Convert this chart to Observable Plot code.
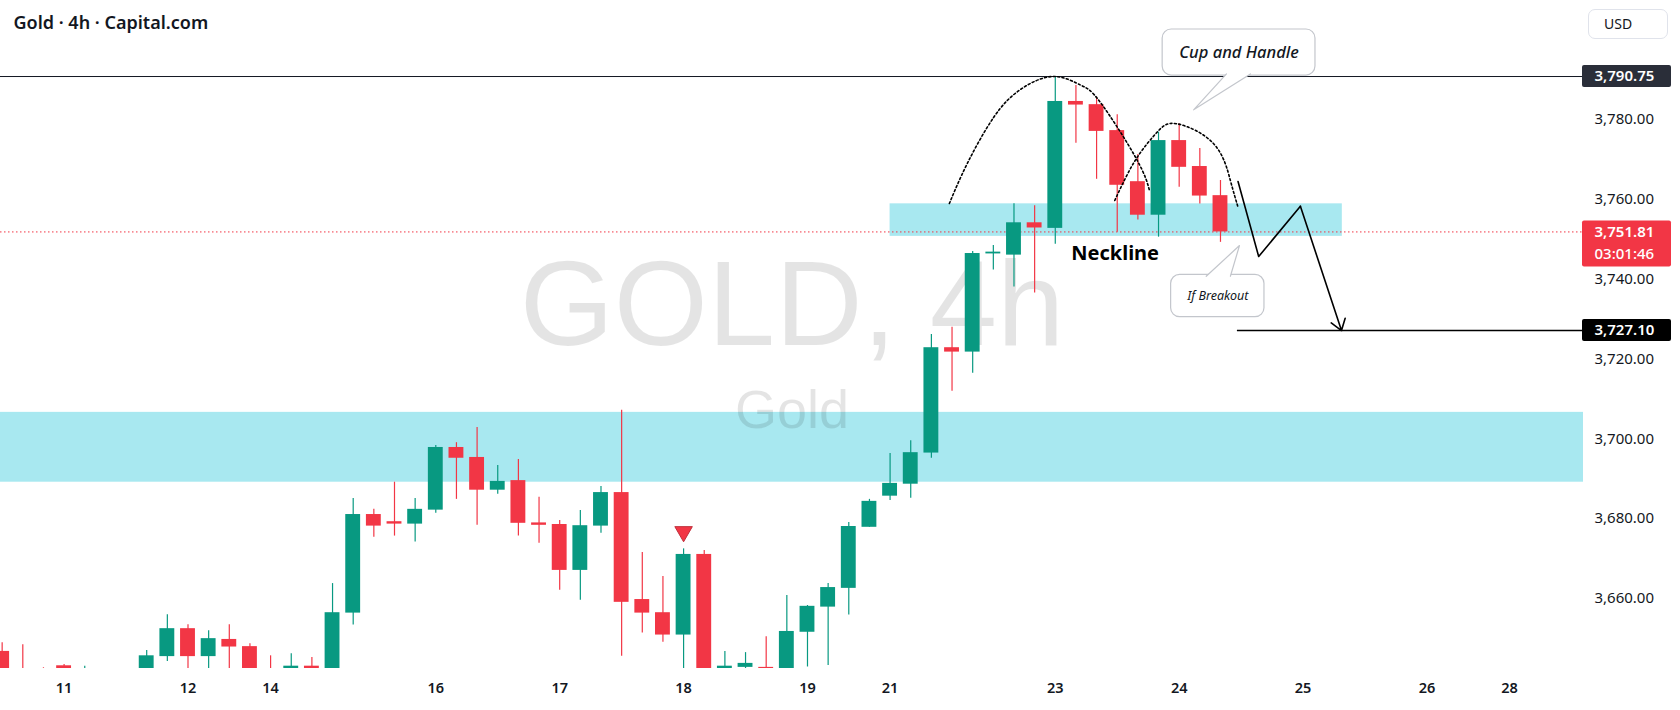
<!DOCTYPE html>
<html><head><meta charset="utf-8">
<script src="https://cdn.jsdelivr.net/npm/d3@7"></script>
<script src="https://cdn.jsdelivr.net/npm/@observablehq/plot@0.6"></script>
<style>
html,body{margin:0;padding:0;background:#fff;}
#chart{position:relative;width:1680px;height:710px;overflow:hidden;}
#usd{position:absolute;left:1588px;top:9px;width:80px;height:30px;box-sizing:border-box;border:1px solid #e0e3eb;border-radius:7px;font:14px "Noto Sans",sans-serif;color:#131722;line-height:28px;padding-left:15px;background:#fff;}
</style></head><body><div id="chart"><div id="usd">USD</div></div>
<script>
// ---- candle data (4h bars, slot index along the time axis) ----
const slots  = [0,1,2,3,4,7,8,9,10,11,12,13,14,15,16,17,18,19,20,21,22,23,24,25,26,27,28,29,30,31,32,33,34,35,36,37,38,39,40,41,42,43,44,45,46,47,48,49,50,51,52,53,54,55,56,57,58,59];
const opens  = [3646.7,3641,3640,3643.1,3638,3638,3645.4,3652.4,3645.4,3649.7,3647.9,3640,3641,3643.0,3641.5,3656.3,3681.0,3679.2,3678.6,3682.1,3697.8,3695.3,3687.1,3689.5,3678.9,3678.5,3667.0,3678.1,3686.5,3659.7,3656.4,3650.8,3671.0,3638,3642.7,3642.7,3636,3651.5,3657.8,3662.5,3677.8,3685.6,3688.6,3696.4,3722.8,3721.7,3746.3,3746.0,3754.1,3752.7,3784.5,3783.7,3777.2,3764.4,3756.0,3774.7,3768.2,3760.9];
const highs  = [3648.9,3648.4,3642.6,3643.4,3643.0,3646.9,3655.9,3653.4,3651.9,3653.4,3648.6,3645.6,3646.1,3645.2,3663.7,3685.0,3682.3,3689.1,3685.0,3698.3,3699.0,3702.8,3693.3,3694.8,3685.3,3679.5,3682.0,3688.0,3707.1,3671.5,3665.5,3672.4,3672.0,3646.7,3646.4,3650.4,3660.7,3658.2,3663.7,3679.0,3684.8,3696.3,3699.5,3726.1,3727.9,3746.9,3748.4,3758.9,3758.4,3790.75,3788.5,3785.5,3781.2,3771.2,3776.8,3778.9,3772.7,3764.7];
const lows   = [3636,3636,3634,3636,3635,3636,3644.2,3641,3642,3642,3637,3636,3639,3638,3640,3653.3,3675.3,3675.6,3674.1,3681.3,3684.8,3678.3,3686.1,3675.6,3673.8,3662.0,3659.5,3676.3,3645.5,3651.3,3649.0,3641,3630,3636,3641,3638,3634,3642.8,3643.2,3655.8,3677.8,3684.5,3685.1,3695.1,3711.9,3716.4,3742.3,3738.0,3736.5,3748.7,3774.0,3765.0,3751.7,3754.8,3750.5,3763.0,3758.8,3749.2];
const closes = [3638,3638,3637,3640,3640,3645.6,3652.4,3645.4,3649.9,3647.8,3639,3638,3643.0,3641,3656.4,3681.0,3678.1,3678.6,3682.3,3697.8,3695.1,3687.1,3689.3,3678.8,3678.3,3667.0,3678.2,3686.5,3659.0,3656.3,3650.8,3671.0,3635,3643.0,3643.7,3640,3651.7,3658.0,3662.7,3678.0,3684.3,3688.8,3696.5,3722.8,3721.7,3746.4,3746.5,3754.1,3752.8,3784.5,3783.6,3777.0,3763.5,3756.0,3774.7,3768.0,3760.8,3751.81];

// ---- axes ----
const daySlots  = [3,9,13,21,27,33,39,43,51,57,63,69,73];
const dayLabels = ["11","12","14","16","17","18","19","21","23","24","25","26","28"];
const priceTicks = [3660,3680,3700,3720,3740,3760,3780];

// ---- levels & zones ----
const highLevel = 3790.75;
const lastPrice = 3751.81;
const countdown = "03:01:46";
const targetLevel = 3727.10;
const targetStartSlot = 59.82;
const zoneNames = ["neckline","support"];
const zoneX1 = [43, null];
const zoneX2 = [64.9, null];
const zoneLow = [3750.7, 3689.1];
const zoneHigh = [3758.85, 3706.6];

// ---- drawings ----
const cupArcSlots  = [45.87,46.73,48.02,49.31,50.90,52.22,53.19,54.92,55.56];
const cupArcPrices = [3758.93,3768.87,3780.55,3787.49,3790.75,3788.62,3784.23,3770.2,3762.2];
const handleArcSlots  = [53.88,54.88,55.93,56.90,58.67,59.48,59.85];
const handleArcPrices = [3759.68,3769.8,3776.79,3778.9,3773.9,3764.7,3758.0];
const zigSlots  = [59.85,60.85,62.87,64.86];
const zigPrices = [3764.44,3745.65,3758.25,3727.1];
const signalSlot = 33, signalPrice = 3676.7;

const cupBox = {x1:56.2, x2:63.6, y1:3791.0, y2:3802.53, tx:59.9, ty:3796.69, text:"Cup and Handle",
  tail:[[59.29,3791.4],[57.70,3782.41],[60.45,3791.4]]};
const brkBox = {x1:56.61, x2:61.13, y1:3730.44, y2:3741.06, tx:58.87, ty:3735.75, text:"If Breakout",
  tail:[[58.31,3740.7],[59.92,3748.4],[59.48,3740.7]]};
const neckText = {x:53.9, y:3746.3, text:"Neckline"};

// ---- build ----
const GREEN = "#089981", RED = "#f23645";
const candles = slots.map((s,i)=>({slot:s,o:opens[i],h:highs[i],l:lows[i],c:closes[i]}));
const col = d => d.c >= d.o ? GREEN : RED;
const xDomain = [-0.08, 76.58];
const xR = xDomain[1];
const bodyHalf = 0.36;
const zones = zoneNames.map((n,i)=>({x1: zoneX1[i] ?? xDomain[0], x2: zoneX2[i] ?? xR, y1: zoneLow[i], y2: zoneHigh[i]}));
const cupArc = cupArcSlots.map((s,i)=>({x:s,y:cupArcPrices[i]}));
const handleArc = handleArcSlots.map((s,i)=>({x:s,y:handleArcPrices[i]}));
const zig = zigSlots.map((s,i)=>({x:s,y:zigPrices[i]}));
const dayMap = new Map(daySlots.map((s,i)=>[s,dayLabels[i]]));
const fmt = d3.format(",.2f");
const FONT = "'Noto Sans', sans-serif";
const TXT = "#131722";
const tailPts = b => b.tail.map(p=>({x:p[0],y:p[1]}));

const chart = Plot.plot({
  width: 1680, height: 710,
  marginTop: 0, marginBottom: 42, marginLeft: 0, marginRight: 97,
  style: {fontFamily: FONT, color: TXT, background: "#fff", overflow: "visible"},
  x: {type: "linear", domain: xDomain},
  y: {type: "linear", domain: [3642.42, 3809.8]},
  marks: [
    // zones
    Plot.rect(zones, {x1:"x1", x2:"x2", y1:"y1", y2:"y2", fill:"#a8e8f0"}),
    // watermark
    Plot.text(["GOLD, 4h"], {frameAnchor:"middle", dy:10, lineAnchor:"bottom", fontSize:121, fontFamily:"'Liberation Sans', Arial, sans-serif", fill:"#000", fillOpacity:0.105}),
    Plot.text(["Gold"], {frameAnchor:"middle", dy:93, lineAnchor:"bottom", fontSize:54, fontFamily:"'Liberation Sans', Arial, sans-serif", fill:"#000", fillOpacity:0.105}),
    // horizontal levels
    Plot.ruleY([highLevel], {stroke:TXT, strokeWidth:1}),
    Plot.ruleY([lastPrice], {stroke:RED, strokeWidth:1, strokeDasharray:"1.5,2.5"}),
    Plot.ruleY([targetLevel], {x1:targetStartSlot, x2:xR, stroke:"#000", strokeWidth:1.4}),
    // candles
    Plot.ruleX(candles, {x:"slot", y1:"l", y2:"h", stroke:col, strokeWidth:1.2, clip:true}),
    Plot.rect(candles, {x1:d=>d.slot-bodyHalf, x2:d=>d.slot+bodyHalf,
      y1:d=>Math.min(d.o,d.c), y2:d=>Math.max(d.o,d.c,Math.min(d.o,d.c)+0.45), fill:col, clip:true}),
    // signal triangle
    Plot.dot([{x:signalSlot,y:signalPrice}], {x:"x", y:"y", symbol:"triangle", r:6.5, rotate:180, fill:RED, stroke:"#c0303c", strokeWidth:1}),
    // cup & handle arcs
    Plot.line(cupArc, {x:"x", y:"y", curve:"natural", stroke:"#000", strokeWidth:1.6, strokeDasharray:"2,2.4"}),
    Plot.line(handleArc, {x:"x", y:"y", curve:"natural", stroke:"#000", strokeWidth:1.6, strokeDasharray:"2,2.4"}),
    // zigzag projection
    Plot.line(zig.slice(0,3), {x:"x", y:"y", stroke:"#000", strokeWidth:1.6}),
    Plot.arrow([{x1:zig[2].x,y1:zig[2].y,x2:zig[3].x,y2:zig[3].y}], {x1:"x1",y1:"y1",x2:"x2",y2:"y2", stroke:"#000", strokeWidth:1.6, headLength:12, headAngle:70}),
    // neckline label
    Plot.text([neckText], {x:"x", y:"y", text:"text", fontSize:20, fontWeight:700, fill:"#000", fontFamily:FONT}),
    // callouts
    Plot.rect([cupBox], {x1:"x1", x2:"x2", y1:"y1", y2:"y2", fill:"#fff", stroke:"#c3c6cc", strokeWidth:1.2, rx:9}),
    Plot.line(tailPts(cupBox), {x:"x", y:"y", fill:"#fff", stroke:"#c3c6cc", strokeWidth:1.2, curve:"linear"}),
    Plot.text([cupBox], {x:"tx", y:"ty", text:"text", fontSize:16.5, fontStyle:"italic", fontWeight:500, fill:TXT}),
    Plot.rect([brkBox], {x1:"x1", x2:"x2", y1:"y1", y2:"y2", fill:"#fff", stroke:"#c3c6cc", strokeWidth:1.2, rx:9}),
    Plot.line(tailPts(brkBox), {x:"x", y:"y", fill:"#fff", stroke:"#c3c6cc", strokeWidth:1.2, curve:"linear"}),
    Plot.text([brkBox], {x:"tx", y:"ty", text:"text", fontSize:12.5, fontStyle:"italic", fill:TXT}),
    // axes
    Plot.axisY({anchor:"right", ticks:priceTicks, tickFormat:fmt, tickSize:0, tickPadding:11, fontSize:15, label:null}),
    Plot.axisX({ticks:daySlots, tickFormat:d=>dayMap.get(d), tickSize:0, tickPadding:14, fontSize:14.5, fontWeight:600, label:null}),
    // price badges on the axis
    Plot.rect([highLevel], {x1:xR, x2:xR, y1:d=>d, y2:d=>d, insetLeft:-1, insetRight:-88, insetTop:-11, insetBottom:-11, fill:"#2a2e39", rx:2}),
    Plot.text([highLevel], {x:xR, y:d=>d, text:fmt, dx:11, textAnchor:"start", fill:"#fff", fontSize:15, fontWeight:600}),
    Plot.rect([targetLevel], {x1:xR, x2:xR, y1:d=>d, y2:d=>d, insetLeft:-1, insetRight:-88, insetTop:-11, insetBottom:-11, fill:"#000", rx:2}),
    Plot.text([targetLevel], {x:xR, y:d=>d, text:fmt, dx:11, textAnchor:"start", fill:"#fff", fontSize:15, fontWeight:600}),
    Plot.rect([lastPrice], {x1:xR, x2:xR, y1:d=>d, y2:d=>d, insetLeft:-1, insetRight:-88, insetTop:-11, insetBottom:-35, fill:RED, rx:2}),
    Plot.text([lastPrice], {x:xR, y:d=>d, text:fmt, dx:11, textAnchor:"start", fill:"#fff", fontSize:15, fontWeight:600}),
    Plot.text([lastPrice], {x:xR, y:d=>d, text:()=>countdown, dx:11, dy:22, textAnchor:"start", fill:"#fff", fontSize:15, fontWeight:500}),
    // title
    Plot.text(["Gold · 4h · Capital.com"], {frameAnchor:"top-left", dx:13, dy:16, lineAnchor:"top", fontSize:18, fontWeight:600, fill:TXT})
  ]
});
document.getElementById("chart").prepend(chart);
</script></body></html>
